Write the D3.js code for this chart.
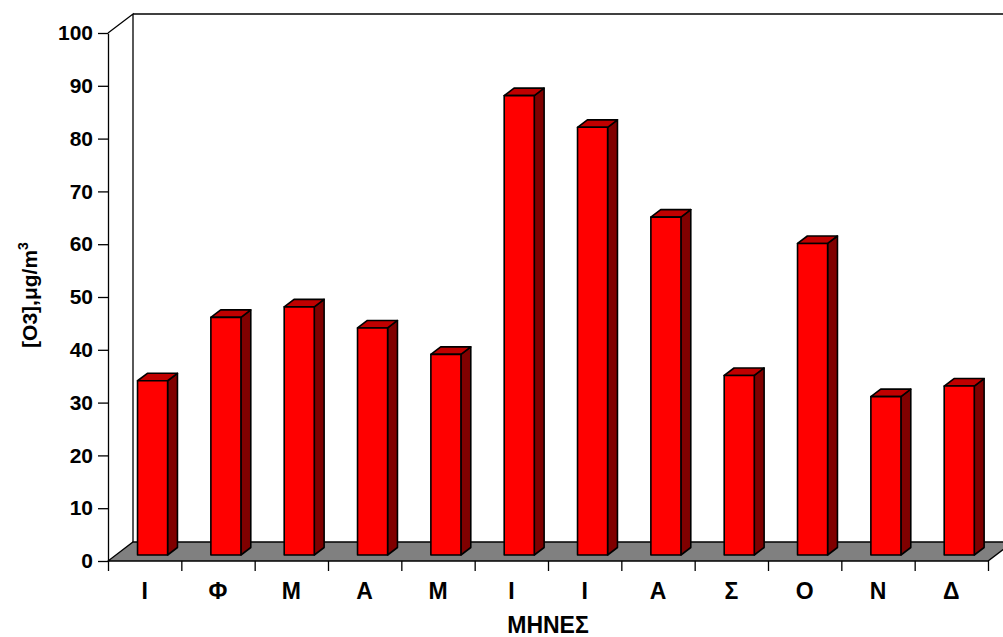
<!DOCTYPE html>
<html>
<head>
<meta charset="utf-8">
<script src="https://cdn.jsdelivr.net/npm/d3@7"></script>
<style>
  html, body { margin: 0; padding: 0; background: #fff; }
  svg { display: block; font-family: Arial, "Liberation Sans", sans-serif; font-weight: bold; }
</style>
</head>
<body>
<svg id="chart" width="1003" height="637"></svg>
<script>
// Monthly mean ozone concentration
const months = ["Ι", "Φ", "Μ", "Α", "Μ", "Ι", "Ι", "Α", "Σ", "Ο", "Ν", "Δ"];
const o3Values = [33, 45, 47, 43, 38, 87, 81, 64, 34, 59, 30, 32];
const yTicks = [0, 10, 20, 30, 40, 50, 60, 70, 80, 90, 100];
const xTitle = "ΜΗΝΕΣ";

const svg = d3.select("#chart");

// Front plane of the 3D box
const plotLeft = 108, plotRight = 988, plotTop = 33, plotBottom = 561;
// Full depth of the box (offset to the back wall)
const DX = 25, DY = -19;
const proj = (px, py, d) => [px + d * DX, py + d * DY];

const x = d3.scaleBand().domain(d3.range(months.length)).range([plotLeft, plotRight]).paddingInner(0).paddingOuter(0);
const xEdge = d3.scaleLinear().domain([0, months.length]).range([plotLeft, plotRight]);
const y = d3.scaleLinear().domain([0, 100]).range([plotBottom, plotTop]);

// Left side wall edges and back wall
const wallTop = proj(plotLeft, plotTop, 1), wallBottom = proj(plotLeft, plotBottom, 1);
svg.append("path")
  .attr("d", `M${plotLeft},${plotTop}L${wallTop[0]},${wallTop[1]}L${wallBottom[0]},${wallBottom[1]}`)
  .attr("fill", "none").attr("stroke", "#000").attr("stroke-width", 1.3);
svg.append("line")
  .attr("x1", wallTop[0]).attr("y1", wallTop[1])
  .attr("x2", proj(plotRight, plotTop, 1)[0] + 40).attr("y2", wallTop[1])
  .attr("stroke", "#000").attr("stroke-width", 1.3);

// Floor
const floorPts = [[plotLeft, plotBottom], [plotRight, plotBottom], proj(plotRight, plotBottom, 1), proj(plotLeft, plotBottom, 1)];
svg.append("path")
  .attr("d", "M" + floorPts.map(p => p.join(",")).join("L") + "Z")
  .attr("fill", "#808080").attr("stroke", "#000").attr("stroke-width", 1.3);

// Bars: front face, side face, top face
const barW = x.bandwidth() * 0.41;
const d0 = 0.316, d1 = 0.71;
const bars = svg.append("g").selectAll("g").data(o3Values).join("g");

bars.each(function (v, i) {
  const g = d3.select(this);
  const cx = x(i) + x.bandwidth() / 2;
  const xl = cx - barW / 2, xr = cx + barW / 2;
  const y0 = y(0), y1 = y(v);
  const fBL = proj(xl, y0, d0), fBR = proj(xr, y0, d0), fTR = proj(xr, y1, d0), fTL = proj(xl, y1, d0);
  const bBR = proj(xr, y0, d1), bTR = proj(xr, y1, d1), bTL = proj(xl, y1, d1);
  const poly = pts => "M" + pts.map(p => p.join(",")).join("L") + "Z";
  const style = sel => sel.attr("stroke", "#000").attr("stroke-width", 1.6).attr("stroke-linejoin", "round");
  style(g.append("path").attr("d", poly([fBR, bBR, bTR, fTR])).attr("fill", "#800000"));
  style(g.append("path").attr("d", poly([fTL, fTR, bTR, bTL])).attr("fill", "#c00000"));
  style(g.append("path").attr("d", poly([fBL, fBR, fTR, fTL])).attr("fill", "#ff0000"));
});

// Y axis
const yAxis = svg.append("g")
  .attr("transform", `translate(${plotLeft},0)`)
  .call(d3.axisLeft(y).tickValues(yTicks).tickSize(10).tickSizeOuter(0).tickPadding(5));
yAxis.selectAll("path, line").attr("stroke", "#000").attr("stroke-width", 1.3);
yAxis.selectAll("text").attr("font-size", 21).attr("font-weight", "bold").attr("fill", "#000")
  .attr("font-family", "Arial, 'Liberation Sans', sans-serif");

// X axis: ticks on category boundaries, labels at band centres
const xAxis = svg.append("g")
  .attr("transform", `translate(0,${plotBottom})`)
  .call(d3.axisBottom(xEdge).tickValues(d3.range(months.length + 1)).tickSize(10).tickSizeOuter(0).tickFormat(""));
xAxis.select(".domain").remove();
xAxis.selectAll("line").attr("stroke", "#000").attr("stroke-width", 1.3);

svg.append("g").selectAll("text").data(months).join("text")
  .attr("x", (d, i) => x(i) + x.bandwidth() / 2)
  .attr("y", 599)
  .attr("text-anchor", "middle")
  .attr("font-size", 23)
  .attr("fill", "#000")
  .text(d => d);

svg.append("text")
  .attr("x", (plotLeft + plotRight) / 2)
  .attr("y", 633)
  .attr("text-anchor", "middle")
  .attr("font-size", 23)
  .attr("fill", "#000")
  .text(xTitle);

// Y axis title with superscript
const yt = svg.append("text")
  .attr("transform", "translate(37,295) rotate(-90)")
  .attr("text-anchor", "middle")
  .attr("font-size", 21)
  .attr("fill", "#000");
yt.append("tspan").text("[O3],μg/m");
yt.append("tspan").attr("font-size", 14).attr("dy", -9).text("3");
</script>
</body>
</html>
